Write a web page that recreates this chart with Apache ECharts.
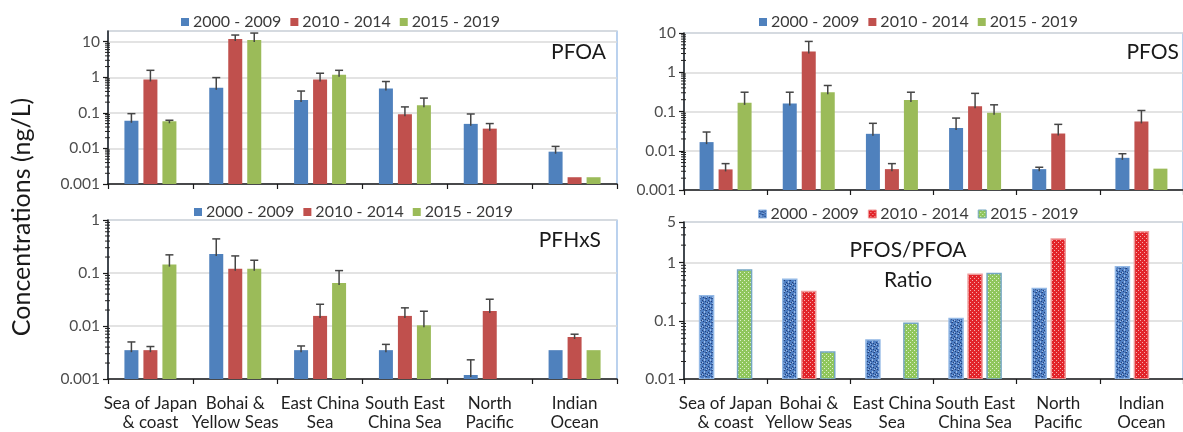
<!DOCTYPE html>
<html><head><meta charset="utf-8">
<script src="https://cdn.jsdelivr.net/npm/echarts@6/dist/echarts.min.js"></script>
<style>html,body{margin:0;padding:0;background:#fff}#c{width:1183px;height:432px}</style>
</head><body><div id="c"></div>
<script>
// ---------- data ----------
const categories = ['Sea of Japan\n& coast','Bohai &\nYellow Seas','East China\nSea','South East\nChina Sea','North\nPacific','Indian\nOcean'];
const periods = ['2000 - 2009','2010 - 2014','2015 - 2019'];

const pfoa2000    = [0.06, 0.51, 0.23, 0.48, 0.049, 0.0081];
const pfoa2000Err = [0.095, 0.98, 0.41, 0.76, 0.093, 0.0114];
const pfoa2010    = [0.87, 12, 0.87, 0.092, 0.036, 0.00155];
const pfoa2010Err = [1.57, 15.4, 1.3, 0.147, 0.05, null];
const pfoa2015    = [0.058, 11.2, 1.18, 0.163, null, 0.00155];
const pfoa2015Err = [0.062, 17.5, 1.57, 0.26, null, null];

const pfos2000    = [0.0166, 0.16, 0.027, 0.038, 0.0034, 0.0066];
const pfos2000Err = [0.030, 0.31, 0.050, 0.068, 0.0038, 0.0084];
const pfos2010    = [0.00335, 3.4, 0.0034, 0.137, 0.0275, 0.056];
const pfos2010Err = [0.0047, 6.1, 0.0047, 0.29, 0.047, 0.106];
const pfos2015    = [0.166, 0.31, 0.195, 0.093, null, 0.0035];
const pfos2015Err = [0.31, 0.46, 0.31, 0.148, null, null];

const pfhxs2000    = [0.0035, 0.228, 0.0035, 0.0035, 0.00119, 0.0035];
const pfhxs2000Err = [0.005, 0.44, 0.0042, 0.0045, 0.0023, null];
const pfhxs2010    = [0.0035, 0.12, 0.0155, 0.0155, 0.0192, 0.0062];
const pfhxs2010Err = [0.0041, 0.21, 0.0257, 0.022, 0.032, 0.0070];
const pfhxs2015    = [0.144, 0.12, 0.065, 0.0103, null, 0.0035];
const pfhxs2015Err = [0.22, 0.174, 0.111, 0.019, null, null];

const ratio2000 = [0.27, 0.52, 0.047, 0.110, 0.36, 0.85];
const ratio2010 = [null, 0.32, null, 0.63, 2.55, 3.4];
const ratio2015 = [0.75, 0.029, 0.091, 0.65, null, null];

// minor tick values of the log axes
const minorTickValues = [0.002,0.003,0.004,0.005,0.006,0.007,0.008,0.009,
  0.02,0.03,0.04,0.05,0.06,0.07,0.08,0.09,
  0.2,0.3,0.4,0.5,0.6,0.7,0.8,0.9,
  2,3,4,5,6,7,8,9,20];

// ---------- styles ----------
const FONT = 'Lato, "Open Sans", sans-serif';
const COLORS = ['#4f81bd', '#c0504d', '#9bbb59'];

function makePattern(size, base, dots) {
  const c = document.createElement('canvas');
  c.width = c.height = size;
  const ctx = c.getContext('2d');
  ctx.fillStyle = base; ctx.fillRect(0, 0, size, size);
  dots.forEach(d => { ctx.fillStyle = d[0]; ctx.fillRect(d[1], d[2], d[3] || 1, d[4] || 1); });
  return { image: c, repeat: 'repeat' };
}
const patBlue = makePattern(6, '#4f7fc3', [
  ['#243f78',0,0],['#243f78',3,1],['#243f78',1,3],['#243f78',4,4],['#243f78',5,2],
  ['#9dbbe6',2,0],['#9dbbe6',0,2],['#9dbbe6',4,3],['#9dbbe6',2,5],['#30589a',1,1],['#30589a',3,4]]);
const patRed = makePattern(4, '#e2242a', [['#f5adad',0,0],['#f5adad',2,2]]);
const patGreen = makePattern(4, '#8fc65c', [['#def0cc',0,0],['#def0cc',2,2]]);
const PATTERNS = [patBlue, patRed, patGreen];
const PAT_STROKE = ['#94b9e6', '#ef9a9a', '#74a6c2'];

// ---------- panels ----------
const panels = [
  { left: 108, top: 31, width: 509, height: 153, min: 0.001, max: 20, showMax: false, labels: false,
    vals: [pfoa2000, pfoa2010, pfoa2015], errs: [pfoa2000Err, pfoa2010Err, pfoa2015Err], pattern: false,
    legend: { left: 181, top: 14 } },
  { left: 684, top: 33, width: 508, height: 157, min: 0.001, max: 10, showMax: true, labels: false,
    vals: [pfos2000, pfos2010, pfos2015], errs: [pfos2000Err, pfos2010Err, pfos2015Err], pattern: false,
    legend: { left: 759, top: 14 } },
  { left: 108, top: 220, width: 509, height: 160, min: 0.001, max: 1, showMax: true, labels: true,
    vals: [pfhxs2000, pfhxs2010, pfhxs2015], errs: [pfhxs2000Err, pfhxs2010Err, pfhxs2015Err], pattern: false,
    legend: { left: 194, top: 204 } },
  { left: 684, top: 222, width: 508, height: 161, min: 0.01, max: 5, showMax: true, labels: true,
    vals: [ratio2000, ratio2010, ratio2015], errs: [null, null, null], pattern: true,
    legend: { left: 758, top: 206 } }
];

const BAR_W = 14, BAR_STEP = 19;

function barRender(idx, pattern) {
  return function (params, api) {
    const v = api.value(1);
    if (v == null || isNaN(v) || v <= 0) return;
    const cat = api.value(0);
    const cs = params.coordSys;
    const p = api.coord([cat, v]);
    const cx = p[0] + (idx - 1) * BAR_STEP;
    const bottom = cs.y + cs.height;
    const children = [{
      type: 'rect',
      shape: { x: cx - BAR_W / 2, y: p[1], width: BAR_W, height: bottom - p[1] },
      style: pattern
        ? { fill: PATTERNS[idx], stroke: PAT_STROKE[idx], lineWidth: 1.5 }
        : { fill: COLORS[idx] }
    }];
    const e = api.value(2);
    if (e != null && !isNaN(e) && e > 0) {
      const pe = api.coord([cat, e]);
      const st = { stroke: '#454545', lineWidth: 1.5 };
      children.push({ type: 'line', shape: { x1: cx, y1: p[1] + 2, x2: cx, y2: pe[1] }, style: st });
      children.push({ type: 'line', shape: { x1: cx - 4, y1: pe[1], x2: cx + 4, y2: pe[1] }, style: st });
    }
    return { type: 'group', children };
  };
}

function minorRender(min, max) {
  return function (params, api) {
    const v = api.value(0);
    if (v <= min || v >= max) return;
    const cs = params.coordSys;
    const p = api.coord([0, v]);
    return { type: 'line', shape: { x1: cs.x - 3, y1: p[1], x2: cs.x + 2, y2: p[1] },
      style: { stroke: '#222', lineWidth: 1 } };
  };
}

const grids = [], xAxes = [], yAxes = [], series = [], legends = [];
panels.forEach((pn, g) => {
  grids.push({ left: pn.left, top: pn.top, width: pn.width, height: pn.height,
    show: true, borderColor: '#8eb4e3', borderWidth: 1.2, containLabel: false });
  xAxes.push({ type: 'category', gridIndex: g, data: categories, boundaryGap: true,
    axisLine: { onZero: false, lineStyle: { color: '#1a1a1a', width: 1.5 } },
    axisTick: { show: true, length: 5, inside: false, lineStyle: { color: '#1a1a1a', width: 1.2 } },
    axisLabel: { show: pn.labels, interval: 0, fontFamily: FONT, fontSize: 17, color: '#1f1f1f',
      lineHeight: 19, margin: 15 },
    splitLine: { show: false } });
  yAxes.push({ type: 'log', logBase: 10, gridIndex: g, min: pn.min, max: pn.max,
    axisLine: { show: true, lineStyle: { color: '#1a1a1a', width: 1.5 } },
    axisTick: { show: true, length: 5, lineStyle: { color: '#1a1a1a', width: 1.2 } },
    axisLabel: { fontFamily: FONT, fontSize: 15.5, color: '#4d4d4d', margin: 8, showMaxLabel: pn.showMax,
      formatter: v => String(+Number(v).toPrecision(3)) },
    splitLine: { show: true, lineStyle: { color: '#dadada', width: 1.5 } } });
  periods.forEach((name, i) => {
    const errs = pn.errs[i];
    series.push({
      type: 'custom', name, xAxisIndex: g, yAxisIndex: g,
      itemStyle: { color: pn.pattern ? PATTERNS[i] : COLORS[i] },
      encode: { x: 0, y: 1 },
      renderItem: barRender(i, pn.pattern),
      data: categories.map((c, k) => [k, pn.vals[i][k], errs ? errs[k] : null]),
      clip: true, silent: true
    });
  });
  series.push({ type: 'custom', xAxisIndex: g, yAxisIndex: g, silent: true,
    encode: { x: -1, y: 0 },
    renderItem: minorRender(pn.min, pn.max),
    data: minorTickValues.map(v => [v]) });
  legends.push({ left: pn.legend.left, top: pn.legend.top, orient: 'horizontal', padding: 0,
    selectedMode: false, itemWidth: 8, itemHeight: 8, itemGap: 9, icon: 'rect',
    textStyle: { fontFamily: FONT, fontSize: 16, color: '#3a3a3a', lineHeight: 16, padding: [0, 0, 0, -1] },
    data: periods.map((name, i) => ({ name,
      itemStyle: pn.pattern ? { color: PATTERNS[i], borderColor: PAT_STROKE[i], borderWidth: 1 } : { color: COLORS[i] } })) });
});

const chart = echarts.init(document.getElementById('c'), null, { renderer: 'canvas' });
chart.setOption({
  animation: false,
  backgroundColor: '#fff',
  grid: grids, xAxis: xAxes, yAxis: yAxes, series, legend: legends,
  graphic: [
    { type: 'text', rotation: Math.PI / 2, x: 22, y: 217,
      style: { text: 'Concentrations (ng/L)', fontFamily: FONT, fontSize: 25, fill: '#1a1a1a',
        textAlign: 'center', textVerticalAlign: 'middle' } },
    { type: 'text', x: 606, y: 52, style: { text: 'PFOA', fontFamily: FONT, fontSize: 21, fill: '#1a1a1a', textAlign: 'right', textVerticalAlign: 'middle' } },
    { type: 'text', x: 1179, y: 52, style: { text: 'PFOS', fontFamily: FONT, fontSize: 21, fill: '#1a1a1a', textAlign: 'right', textVerticalAlign: 'middle' } },
    { type: 'text', x: 601, y: 240, style: { text: 'PFHxS', fontFamily: FONT, fontSize: 21, fill: '#1a1a1a', textAlign: 'right', textVerticalAlign: 'middle' } },
    { type: 'text', x: 908, y: 250, style: { text: 'PFOS/PFOA', fontFamily: FONT, fontSize: 21, fill: '#1a1a1a', textAlign: 'center', textVerticalAlign: 'middle' } },
    { type: 'text', x: 908, y: 280, style: { text: 'Ratio', fontFamily: FONT, fontSize: 21, fill: '#1a1a1a', textAlign: 'center', textVerticalAlign: 'middle' } }
  ]
});
</script></body></html>
